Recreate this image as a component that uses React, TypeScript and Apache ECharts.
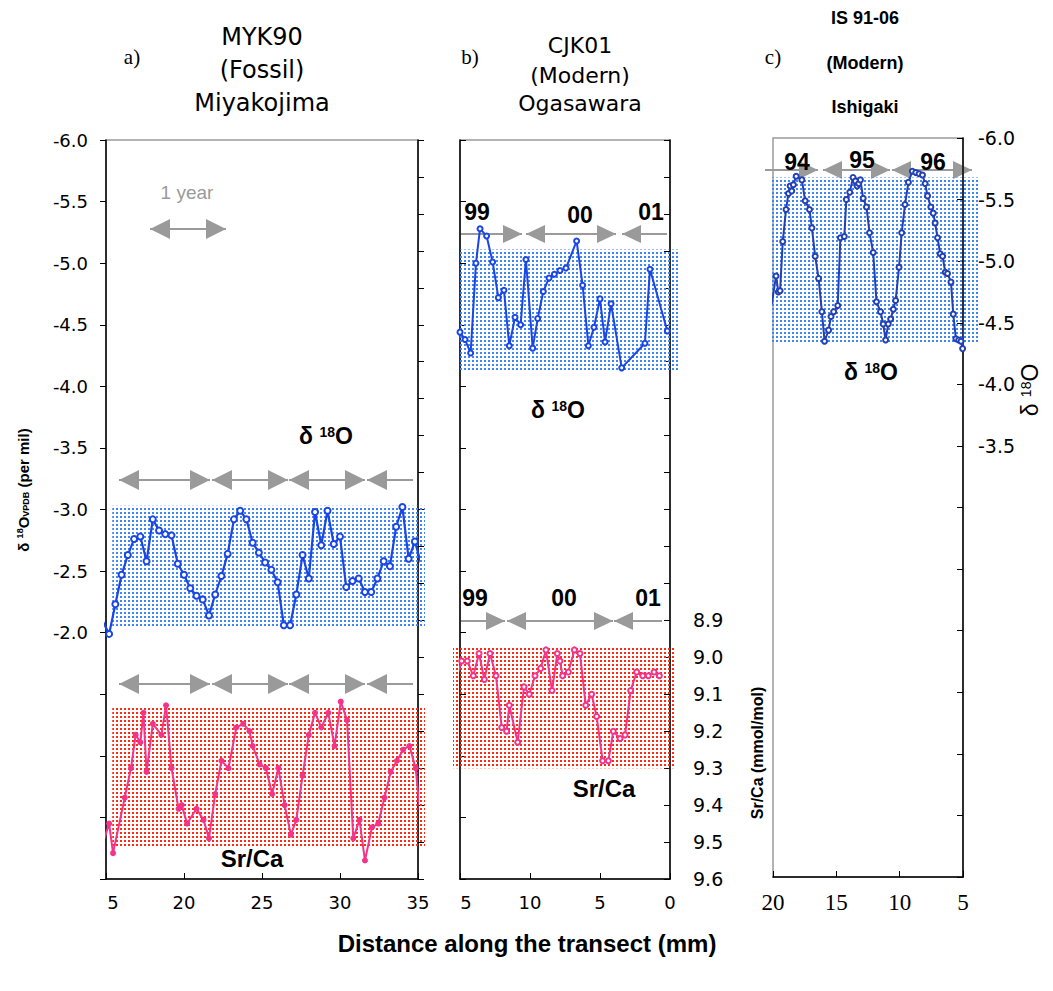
import React, { useEffect, useRef } from 'react';
import * as echarts from 'echarts';

// ---------- Panel a: MYK90 (Fossil) Miyakojima ----------
const aD18ODist = [14.8, 15.2, 15.6, 16.0, 16.4, 16.8, 17.2, 17.6, 18.0, 18.4, 18.8, 19.2, 19.6, 20.0, 20.4, 20.8, 21.2, 21.6, 22.0, 22.4, 22.8, 23.2, 23.6, 24.0, 24.4, 24.8, 25.2, 25.6, 26.0, 26.4, 26.8, 27.2, 27.6, 28.0, 28.4, 28.8, 29.2, 29.6, 30.0, 30.4, 30.8, 31.2, 31.6, 32.0, 32.4, 32.8, 33.2, 33.6, 34.0, 34.4, 34.8, 35.2];
const aD18O = [-2.09, -1.99, -2.23, -2.47, -2.63, -2.76, -2.78, -2.58, -2.92, -2.83, -2.8, -2.79, -2.56, -2.47, -2.36, -2.3, -2.27, -2.14, -2.31, -2.46, -2.64, -2.92, -2.99, -2.92, -2.73, -2.65, -2.57, -2.51, -2.41, -2.06, -2.06, -2.31, -2.63, -2.44, -2.98, -2.71, -2.99, -2.72, -2.78, -2.37, -2.42, -2.44, -2.33, -2.33, -2.44, -2.58, -2.54, -2.86, -3.02, -2.6, -2.74, -2.56];
const aSrCaDist = [14.9, 15.2, 15.45, 16.2, 16.6, 16.9, 17.2, 17.4, 17.6, 18.0, 18.55, 18.85, 19.2, 19.65, 19.85, 20.2, 20.8, 21.25, 21.6, 22.0, 22.4, 22.85, 23.35, 23.8, 24.2, 24.4, 24.85, 25.25, 25.65, 26.05, 26.45, 26.85, 27.2, 27.6, 28.0, 28.4, 28.8, 29.25, 29.65, 30.05, 30.45, 30.85, 31.25, 31.6, 32.05, 32.45, 32.85, 33.25, 33.65, 34.05, 34.45, 34.85, 35.25];
const aSrCa = [9.49, 9.45, 9.53, 9.38, 9.3, 9.21, 9.23, 9.15, 9.31, 9.18, 9.21, 9.13, 9.3, 9.41, 9.4, 9.45, 9.41, 9.44, 9.49, 9.37, 9.28, 9.3, 9.19, 9.18, 9.2, 9.24, 9.29, 9.3, 9.37, 9.3, 9.4, 9.48, 9.44, 9.32, 9.21, 9.15, 9.19, 9.15, 9.24, 9.12, 9.17, 9.49, 9.44, 9.55, 9.46, 9.45, 9.38, 9.31, 9.28, 9.25, 9.24, 9.3, 9.47];

// ---------- Panel b: CJK01 (Modern) Ogasawara ----------
const bD18ODist = [15.3, 15.0, 14.64, 14.24, 13.86, 13.57, 13.1, 12.67, 12.26, 11.86, 11.48, 11.07, 10.67, 10.29, 9.81, 9.45, 9.05, 8.64, 8.26, 7.86, 7.43, 6.67, 6.24, 5.83, 5.43, 5.0, 4.64, 4.21, 3.45, 1.79, 1.43, 0.19];
const bD18O = [-4.25, -4.44, -4.38, -4.27, -5.0, -5.28, -5.22, -5.01, -4.72, -4.78, -4.33, -4.56, -4.5, -5.03, -4.31, -4.55, -4.77, -4.88, -4.91, -4.94, -4.96, -5.18, -4.82, -4.33, -4.48, -4.71, -4.36, -4.67, -4.15, -4.35, -4.95, -4.45];
const bSrCaDist = [15.3, 14.88, 14.48, 14.05, 13.64, 13.26, 12.86, 12.43, 12.02, 11.67, 11.48, 10.88, 10.43, 10.05, 9.64, 9.24, 8.86, 8.43, 8.05, 7.86, 7.67, 7.26, 6.83, 6.43, 6.02, 5.6, 5.24, 4.81, 4.4, 4.05, 3.57, 3.21, 2.81, 2.38, 1.95, 1.55, 1.14, 0.76];
const bSrCa = [9.06, 9.01, 9.01, 9.05, 8.99, 9.06, 8.99, 9.05, 9.19, 9.2, 9.13, 9.23, 9.08, 9.1, 9.05, 9.03, 8.98, 9.09, 8.99, 9.01, 9.05, 9.04, 8.98, 8.99, 9.13, 9.1, 9.16, 9.28, 9.28, 9.2, 9.22, 9.21, 9.09, 9.04, 9.05, 9.05, 9.04, 9.05];

// ---------- Panel c: IS 91-06 (Modern) Ishigaki ----------
const cD18ODist = [20.1, 19.76, 19.58, 19.44, 19.23, 18.97, 18.78, 18.65, 18.52, 18.39, 18.17, 17.72, 17.46, 17.12, 16.93, 16.67, 16.4, 16.14, 15.93, 15.61, 15.42, 15.21, 14.89, 14.68, 14.37, 14.21, 13.94, 13.68, 13.49, 13.36, 13.23, 13.1, 12.88, 12.62, 12.38, 12.09, 11.83, 11.51, 11.3, 11.11, 10.9, 10.71, 10.5, 10.32, 10.05, 9.84, 9.58, 9.31, 9.0, 8.73, 8.47, 8.2, 7.99, 7.8, 7.54, 7.35, 7.2, 7.01, 6.8, 6.61, 6.4, 6.22, 5.95, 5.77, 5.56, 5.34, 5.16, 5.03, 4.76];
const cD18O = [-4.65, -4.88, -4.75, -4.76, -5.16, -5.42, -5.55, -5.61, -5.57, -5.62, -5.69, -5.66, -5.49, -5.42, -5.27, -5.04, -4.86, -4.59, -4.35, -4.44, -4.55, -4.59, -4.64, -5.19, -5.2, -5.5, -5.56, -5.68, -5.65, -5.61, -5.63, -5.66, -5.51, -5.44, -5.23, -5.07, -4.67, -4.59, -4.49, -4.36, -4.49, -4.53, -4.61, -4.68, -4.95, -5.23, -5.46, -5.64, -5.73, -5.72, -5.71, -5.7, -5.63, -5.53, -5.44, -5.39, -5.31, -5.19, -5.06, -5.04, -4.91, -4.9, -4.83, -4.57, -4.37, -4.36, -4.35, -4.29, -4.67];

// ---------- Ticks & labels ----------
const aXTicks = [15, 20, 25, 30, 35];
const aXTickLabels = ['5', '20', '25', '30', '35'];
const bXTicks = [15, 10, 5, 0];
const bXTickLabels = ['5', '10', '5', '0'];
const cXTicks = [20, 15, 10, 5];
const cXTickLabels = ['20', '15', '10', '5'];
const aD18OTickLabels = ['-6.0', '-5.5', '-5.0', '-4.5', '-4.0', '-3.5', '-3.0', '-2.5', '-2.0'];
const bSrCaTickLabels = ['8.9', '9.0', '9.1', '9.2', '9.3', '9.4', '9.5', '9.6'];
const cD18OTickLabels = ['-6.0', '-5.5', '-5.0', '-4.5', '-4.0', '-3.5'];

// highlighted ranges: [xFrom, xTo, yFrom, yTo]
const aD18OBand = [15.4, 35.45, -3.03, -2.05];
const aSrCaBand = [15.4, 35.45, 9.137, 9.513];
const bD18OBand = [15.0, -0.57, -5.11, -4.12];
const bSrCaBand = [15.5, -0.36, 8.97, 9.3];
const cD18OBand = [20.1, 3.73, -5.68, -4.33];

const bYears = ['99', '00', '01'];
const cYears = ['94', '95', '96'];

const GRAY = '#9a9a9a';
const BLUE = '#1a46e6';
const NAVY = '#2340b4';
const PINK = '#f5338a';
const TICKFONT = 'DejaVu Sans';
const SANS = 'Liberation Sans';

function zip(xs: number[], ys: number[]) {
  return xs.map((x, i) => [x, ys[i]]);
}

function makeDots(color: string) {
  const c = document.createElement('canvas');
  c.width = 4;
  c.height = 4;
  const ctx = c.getContext('2d')!;
  ctx.fillStyle = color;
  ctx.fillRect(0, 0, 2, 2);
  return { image: c, repeat: 'repeat', imageWidth: 4, imageHeight: 4 } as any;
}

function arrowRow(y: number, segs: number[][], hw = 20, hh = 10) {
  const els: any[] = [];
  segs.forEach(([x1, x2, l, r]) => {
    els.push({ type: 'line', shape: { x1, y1: y, x2, y2: y }, style: { stroke: GRAY, lineWidth: 2 } });
    if (l) els.push({ type: 'polygon', shape: { points: [[x1, y], [x1 + hw, y - hh], [x1 + hw, y + hh]] }, style: { fill: GRAY } });
    if (r) els.push({ type: 'polygon', shape: { points: [[x2, y], [x2 - hw, y - hh], [x2 - hw, y + hh]] }, style: { fill: GRAY } });
  });
  return els;
}

function txt(x: number, y: number, text: string, size: number, opts: any = {}) {
  return {
    type: 'text',
    x,
    y,
    z: 20,
    rotation: opts.rotation || 0,
    style: {
      text,
      fontSize: size,
      fontFamily: opts.family || SANS,
      fontWeight: opts.weight || 'normal',
      fill: opts.color || '#000',
      align: 'center',
      verticalAlign: 'middle',
    },
  };
}

function d18oLabel(x: number, y: number, big: number, small: number, weight: string, rotation = 0) {
  return {
    type: 'text',
    x,
    y,
    z: 20,
    rotation,
    style: {
      text: '{d|δ }{s|18}{d|O}',
      align: 'center',
      verticalAlign: 'middle',
      rich: {
        d: { fontSize: big, fontWeight: weight, fontFamily: SANS, fill: '#000' },
        s: { fontSize: small, fontWeight: weight, fontFamily: SANS, fill: '#000', verticalAlign: 'top' },
      },
    },
  };
}

function xAxis(grid: number, min: number, max: number, inverse: boolean, ticks: number[], labels: string[], font: string, size: number, firstPad: number) {
  return {
    type: 'value',
    gridIndex: grid,
    min,
    max,
    interval: 5,
    inverse,
    axisLine: { show: true, onZero: false, lineStyle: { color: '#000', width: 1.5 } },
    axisTick: { show: true, inside: true, length: 6, lineStyle: { color: '#000', width: 1 } },
    splitLine: { show: false },
    axisLabel: {
      margin: 14,
      color: '#000',
      fontFamily: font,
      fontSize: size,
      formatter: (v: number) => {
        const i = ticks.indexOf(Math.round(v));
        if (i < 0) return '';
        return i === 0 && firstPad ? `{o|${labels[i]}}` : labels[i];
      },
      rich: { o: { fontFamily: font, fontSize: size, color: '#000', padding: [0, 0, 0, firstPad] } },
    },
  };
}

function yAxis(grid: number, pos: string, min: number, max: number, interval: number, inside: boolean, labels: string[] | null, margin: number, size: number) {
  return {
    type: 'value',
    gridIndex: grid,
    position: pos,
    min,
    max,
    interval,
    inverse: true,
    axisLine: { show: true, onZero: false, lineStyle: { color: '#000', width: 1.5 } },
    axisTick: { show: true, inside, length: 6, lineStyle: { color: '#000', width: 1 } },
    splitLine: { show: false },
    axisLabel: {
      show: !!labels,
      margin,
      color: '#000',
      fontFamily: TICKFONT,
      fontSize: size,
      formatter: (v: number) => {
        const s = v.toFixed(1);
        return labels && labels.includes(s) ? s : '';
      },
    },
  };
}

export default function App() {
  const ref = useRef<HTMLDivElement>(null);

  useEffect(() => {
    if (!ref.current) return;
    const chart = echarts.init(ref.current, undefined, { renderer: 'svg' });
    const blueDots = makeDots('#3f86f2');
    const redDots = makeDots('#ff2a12');

    const gridBox = { show: true, borderColor: GRAY, borderWidth: 1.5, backgroundColor: 'transparent' };

    const elements: any[] = [
      // titles
      txt(132, 57, 'a)', 21, { family: 'Liberation Serif' }),
      txt(262, 37, 'MYK90', 24, { family: TICKFONT }),
      txt(262, 70, '(Fossil)', 24, { family: TICKFONT }),
      txt(262, 103, 'Miyakojima', 24, { family: TICKFONT }),
      txt(470, 57, 'b)', 21, { family: 'Liberation Serif' }),
      txt(580, 45, 'CJK01', 22, { family: TICKFONT }),
      txt(580, 75, '(Modern)', 22, { family: TICKFONT }),
      txt(580, 103, 'Ogasawara', 22, { family: TICKFONT }),
      txt(773, 57, 'c)', 21, { family: 'Liberation Serif' }),
      txt(865, 18, 'IS 91-06', 18, { weight: 'bold' }),
      txt(865, 63, '(Modern)', 18, { weight: 'bold' }),
      txt(865, 107, 'Ishigaki', 18, { weight: 'bold' }),
      // 1 year
      txt(187, 192, '1 year', 19, { color: GRAY }),
      ...arrowRow(229, [[150, 226, 1, 1]]),
      // panel a arrows
      ...arrowRow(480, [[119, 210, 1, 1], [212, 288, 1, 1], [289, 365, 1, 1], [367, 413, 1, 0]]),
      ...arrowRow(684, [[119, 210, 1, 1], [212, 288, 1, 1], [289, 365, 1, 1], [367, 413, 1, 0]]),
      // panel b arrows
      ...arrowRow(234, [[460, 522, 0, 1], [526, 616, 1, 1], [622, 667, 1, 0]], 19, 9),
      ...arrowRow(621, [[460, 505, 0, 1], [507, 613, 1, 1], [614, 662, 1, 0]], 19, 9),
      // panel c arrows
      ...arrowRow(170, [[765, 818, 0, 1], [823, 890, 1, 1], [892, 972, 1, 1]], 19, 9),
      // year labels
      txt(477, 212, bYears[0], 23, { weight: 'bold' }),
      txt(580, 215, bYears[1], 23, { weight: 'bold' }),
      txt(651, 212, bYears[2], 23, { weight: 'bold' }),
      txt(475, 598, bYears[0], 23, { weight: 'bold' }),
      txt(564, 598, bYears[1], 23, { weight: 'bold' }),
      txt(648, 598, bYears[2], 23, { weight: 'bold' }),
      txt(797, 162, cYears[0], 23, { weight: 'bold' }),
      txt(862, 160, cYears[1], 23, { weight: 'bold' }),
      txt(933, 162, cYears[2], 23, { weight: 'bold' }),
      // series labels
      d18oLabel(326, 436, 23, 14, 'bold'),
      d18oLabel(558, 410, 23, 14, 'bold'),
      d18oLabel(871, 372, 23, 14, 'bold'),
      txt(252, 858, 'Sr/Ca', 24, { weight: 'bold' }),
      txt(604, 788, 'Sr/Ca', 24, { weight: 'bold' }),
      // axis names
      {
        type: 'text',
        x: 23,
        y: 490,
        z: 20,
        rotation: Math.PI / 2,
        style: {
          text: '{d|δ }{s|18}{d|O}{b|VPDB}{d| (per mil)}',
          align: 'center',
          verticalAlign: 'middle',
          rich: {
            d: { fontSize: 15, fontWeight: 'bold', fontFamily: SANS, fill: '#000' },
            s: { fontSize: 9, fontWeight: 'bold', fontFamily: SANS, fill: '#000', verticalAlign: 'top' },
            b: { fontSize: 9, fontWeight: 'bold', fontFamily: SANS, fill: '#000', verticalAlign: 'bottom' },
          },
        },
      },
      txt(757, 753, 'Sr/Ca (mmol/mol)', 16, { weight: 'bold', rotation: Math.PI / 2 }),
      d18oLabel(1030, 390, 23, 14, 'normal', Math.PI / 2),
      txt(527, 943, 'Distance along the transect (mm)', 24, { weight: 'bold' }),
    ];

    chart.setOption({
      animation: false,
      backgroundColor: '#ffffff',
      grid: [
        { left: 106, top: 140, width: 312, height: 739, ...gridBox },
        { left: 460, top: 140, width: 210, height: 739, ...gridBox },
        { left: 773, top: 138, width: 190, height: 739, ...gridBox },
      ],
      xAxis: [
        xAxis(0, 15, 35, false, aXTicks, aXTickLabels, TICKFONT, 18, 14),
        xAxis(1, 0, 15, true, bXTicks, bXTickLabels, TICKFONT, 18, 12),
        xAxis(2, 5, 20, true, cXTicks, cXTickLabels, 'Liberation Sans Narrow', 23, 0),
      ],
      yAxis: [
        yAxis(0, 'left', -6, 0, 0.5, false, aD18OTickLabels, 18, 18),
        yAxis(0, 'right', 7.6, 9.6, 0.1, false, null, 8, 17),
        yAxis(1, 'left', -6, 0, 0.5, true, null, 8, 17),
        yAxis(1, 'right', 7.6, 9.6, 0.1, true, bSrCaTickLabels, 23, 19),
        yAxis(2, 'right', -6, 0, 0.5, true, cD18OTickLabels, 15, 19),
      ],
      series: [
        {
          type: 'line',
          name: 'MYK90 δ18O',
          xAxisIndex: 0,
          yAxisIndex: 0,
          data: zip(aD18ODist, aD18O),
          clip: true,
          z: 5,
          symbol: 'emptyCircle',
          symbolSize: 6,
          lineStyle: { color: BLUE, width: 2.2 },
          itemStyle: { color: BLUE, borderWidth: 1.5 },
        },
        {
          type: 'line',
          name: 'MYK90 Sr/Ca',
          xAxisIndex: 0,
          yAxisIndex: 1,
          data: zip(aSrCaDist, aSrCa),
          clip: true,
          z: 5,
          symbol: 'circle',
          symbolSize: 6,
          lineStyle: { color: PINK, width: 2 },
          itemStyle: { color: PINK },
        },
        {
          type: 'line',
          name: 'CJK01 δ18O',
          xAxisIndex: 1,
          yAxisIndex: 2,
          data: zip(bD18ODist, bD18O),
          clip: true,
          z: 5,
          symbol: 'emptyCircle',
          symbolSize: 5,
          lineStyle: { color: BLUE, width: 2 },
          itemStyle: { color: BLUE, borderWidth: 1.3 },
        },
        {
          type: 'line',
          name: 'CJK01 Sr/Ca',
          xAxisIndex: 1,
          yAxisIndex: 3,
          data: zip(bSrCaDist, bSrCa),
          clip: true,
          z: 5,
          symbol: 'emptyCircle',
          symbolSize: 5,
          lineStyle: { color: PINK, width: 2 },
          itemStyle: { color: PINK, borderWidth: 1.3 },
        },
        {
          type: 'line',
          name: 'IS 91-06 δ18O',
          xAxisIndex: 2,
          yAxisIndex: 4,
          data: zip(cD18ODist, cD18O),
          clip: true,
          z: 5,
          symbol: 'emptyCircle',
          symbolSize: 5,
          lineStyle: { color: NAVY, width: 2 },
          itemStyle: { color: NAVY, borderWidth: 1.3 },
        },
      ],
      graphic: { elements },
    });

    // Dotted highlight bands, placed through the axes' own scales
    const bandRect = (xi: number, yi: number, b: number[], fill: any) => {
      const p1 = chart.convertToPixel({ xAxisIndex: xi, yAxisIndex: yi } as any, [b[0], b[2]]) as number[];
      const p2 = chart.convertToPixel({ xAxisIndex: xi, yAxisIndex: yi } as any, [b[1], b[3]]) as number[];
      const x = Math.min(p1[0], p2[0]);
      const y = Math.min(p1[1], p2[1]);
      return {
        type: 'rect',
        z: 1,
        silent: true,
        shape: { x, y, width: Math.abs(p2[0] - p1[0]), height: Math.abs(p2[1] - p1[1]) },
        style: { fill },
      };
    };
    const bands = [
      bandRect(0, 0, aD18OBand, blueDots),
      bandRect(0, 1, aSrCaBand, redDots),
      bandRect(1, 2, bD18OBand, blueDots),
      bandRect(1, 3, bSrCaBand, redDots),
      bandRect(2, 4, cD18OBand, blueDots),
    ];
    chart.setOption({ graphic: { elements: [...elements, ...bands] } });

    return () => chart.dispose();
  }, []);

  return <div ref={ref} style={{ position: 'fixed', left: 0, top: 0, width: 1053, height: 991 }} />;
}
